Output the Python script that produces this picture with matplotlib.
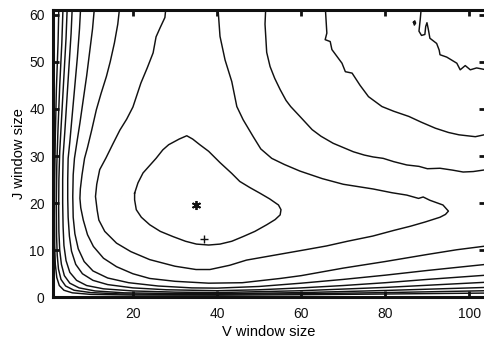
import matplotlib
matplotlib.use("Agg")
import matplotlib.pyplot as plt

plt.rcParams['font.family'] = ['Liberation Sans', 'DejaVu Sans']

# contour lines, (V window, J window)
# innermost closed loop round the minimum
c1_v = [20.4, 20.4, 20.8, 22.0, 24.0, 26.5, 29.5, 32.5, 35.1, 38.0, 40.7, 43.5, 46.2, 49.0,
        51.8, 53.8, 55.0, 55.2, 54.6, 52.5, 50.2, 47.8, 45.4, 43.5, 40.7, 38.0, 35.9, 34.2,
        32.8, 31.0, 28.5, 27.1, 25.5, 24.0, 22.4, 21.2, 20.4]
c1_j = [22.1, 20.7, 18.6, 17.0, 15.4, 14.0, 12.9, 11.9, 11.3, 11.1, 11.3, 11.9, 12.9, 14.0,
        15.4, 16.5, 17.5, 18.6, 19.6, 20.9, 22.1, 23.3, 24.6, 26.3, 28.6, 31.0, 32.4, 33.6,
        34.3, 33.6, 32.4, 31.3, 29.5, 28.0, 26.4, 24.3, 22.1]

# second loop, open at the top, tip near V=95
c2_v = [27.9, 27.6, 26.5, 25.5, 24.8, 23.4, 21.9, 20.0, 18.5, 16.9, 15.2, 13.6, 12.1, 11.4,
        11.1, 11.5, 11.9, 13.3, 16.1, 19.5, 24.0, 30.0, 35.0, 38.3, 43.0, 47.0, 54.0, 61.0,
        66.0, 71.0, 77.0, 82.0, 86.0, 89.5, 93.0, 94.3, 95.0, 93.7, 90.6, 89.0, 87.9, 85.1,
        81.6, 77.1, 70.0, 65.0, 59.7, 56.0, 53.0, 50.4, 48.6, 46.2, 44.7, 43.5, 41.9, 40.7,
        40.3, 39.9]
c2_j = [62.0, 59.4, 57.3, 55.3, 51.9, 48.7, 45.5, 40.4, 37.8, 35.5, 32.5, 29.6, 27.1, 24.0,
        21.4, 18.5, 16.4, 14.0, 11.5, 9.7, 8.0, 6.6, 5.9, 5.9, 6.8, 7.9, 9.0, 10.1,
        10.9, 11.9, 13.0, 14.2, 15.1, 16.0, 17.0, 17.6, 18.3, 19.6, 20.6, 21.3, 21.0, 21.7,
        22.2, 23.0, 24.0, 25.2, 26.8, 28.2, 29.5, 31.5, 34.1, 37.7, 40.5, 45.8, 50.4, 55.4,
        60.4, 62.0]

# left arms that bend round the lower left corner
c3l_v = [16.9, 16.4, 15.6, 14.6, 13.7, 12.4, 11.3, 10.2, 9.2, 8.5, 7.9, 7.5, 7.4, 7.6, 8.2,
         9.2, 10.6, 13.0, 16.1, 20.0, 24.0, 30.0, 38.0, 46.0, 55.0, 60.0, 70.0, 80.0, 90.0,
         97.0, 104.0]
c3l_j = [62.0, 58.0, 54.0, 50.0, 46.9, 43.2, 39.8, 35.5, 31.8, 29.5, 26.0, 23.0, 21.0, 19.0,
         16.4, 13.3, 10.8, 8.3, 6.5, 5.0, 4.0, 3.4, 3.0, 3.1, 4.0, 4.6, 6.2, 7.6, 9.1,
         10.1, 10.9]

c4l_v = [10.9, 10.4, 9.7, 9.0, 8.2, 7.4, 6.7, 6.1, 5.8, 5.7, 5.8, 6.2, 7.0, 8.4, 10.5, 14.0,
         19.0, 26.0, 34.0, 40.0, 50.0, 60.0, 70.0, 80.0, 90.0, 104.0]
c4l_j = [62.0, 57.0, 52.0, 47.0, 42.0, 37.0, 33.0, 29.5, 26.0, 21.4, 17.0, 13.5, 10.3, 7.6,
         5.6, 4.1, 3.1, 2.4, 2.0, 1.95, 2.3, 3.0, 3.8, 4.7, 5.7, 7.0]

c5l_v = [7.6, 7.3, 6.8, 6.2, 5.6, 5.0, 4.6, 4.5, 4.5, 4.6, 4.9, 5.4, 6.4, 8.0, 10.5, 14.0,
         20.0, 28.0, 40.0, 50.0, 60.0, 70.0, 80.0, 90.0, 104.0]
c5l_j = [62.0, 57.0, 51.0, 45.0, 39.0, 33.0, 29.5, 25.0, 21.0, 17.0, 13.0, 9.8, 7.0, 5.0,
         3.6, 2.7, 2.0, 1.6, 1.4, 1.6, 2.0, 2.5, 3.1, 3.8, 4.7]

c6_v = [5.6, 5.3, 4.8, 4.3, 3.8, 3.4, 3.3, 3.3, 3.4, 3.6, 4.1, 5.0, 6.6, 9.0, 13.0, 20.0,
        30.0, 40.0, 60.0, 80.0, 104.0]
c6_j = [62.0, 56.0, 49.0, 42.0, 35.0, 30.0, 25.0, 20.0, 15.0, 11.0, 7.8, 5.3, 3.6, 2.5,
        1.8, 1.35, 1.1, 1.0, 1.4, 2.1, 3.2]

c7_v = [4.4, 4.1, 3.6, 3.1, 2.6, 2.4, 2.35, 2.4, 2.6, 3.0, 3.7, 5.0, 7.2, 11.0, 18.0, 30.0,
        40.0, 60.0, 80.0, 104.0]
c7_j = [62.0, 55.0, 47.0, 39.0, 31.0, 25.0, 19.0, 14.0, 10.0, 7.0, 4.6, 3.0, 2.0, 1.35,
        0.95, 0.8, 0.75, 1.0, 1.45, 2.1]

c8_v = [3.4, 3.1, 2.6, 2.2, 1.9, 1.8, 1.85, 2.0, 2.3, 2.9, 4.0, 6.0, 10.0, 17.0, 30.0,
        60.0, 80.0, 104.0]
c8_j = [62.0, 54.0, 45.0, 36.0, 28.0, 20.0, 13.0, 9.0, 6.0, 3.8, 2.4, 1.5, 1.0, 0.72, 0.6,
        0.75, 1.0, 1.4]

c9_v = [2.4, 2.2, 1.8, 1.55, 1.4, 1.35, 1.4, 1.55, 1.9, 2.5, 3.6, 5.6, 10.0, 20.0, 40.0,
        60.0, 80.0, 104.0]
c9_j = [62.0, 54.0, 44.0, 34.0, 25.0, 17.0, 11.0, 7.0, 4.2, 2.5, 1.5, 0.95, 0.62, 0.48,
        0.45, 0.55, 0.7, 0.9]

# pieces in the upper right
c3r_v = [51.6, 51.4, 51.6, 51.8, 52.6, 53.7, 55.0, 56.4, 57.5, 59.7, 62.6, 64.7, 67.6, 70.0,
         72.4, 75.0, 77.1, 79.5, 82.0, 85.1, 88.0, 90.0, 93.0, 96.0, 98.5, 100.9, 104.0]
c3r_j = [62.0, 58.0, 55.0, 52.0, 49.0, 46.5, 44.1, 41.8, 40.5, 38.4, 35.6, 34.2, 32.7, 31.8,
         30.9, 30.2, 29.8, 29.5, 28.8, 28.1, 27.8, 27.3, 27.4, 27.0, 26.6, 26.7, 27.1]

c4r_v = [65.7, 66.1, 65.7, 66.9, 67.3, 69.7, 70.5, 72.1, 74.0, 76.0, 79.2, 82.0, 85.6, 88.5,
         91.9, 95.0, 97.5, 101.4, 104.0]
c4r_j = [62.0, 56.1, 54.7, 54.3, 52.6, 49.7, 47.9, 47.6, 45.0, 42.6, 40.5, 39.5, 38.4, 37.2,
         35.9, 35.0, 34.5, 34.1, 34.6]

c5_v = [88.6, 88.3, 88.0, 88.6, 89.4, 89.6, 89.9, 90.2, 90.6, 92.2, 92.8, 93.0, 94.6, 97.0,
        97.8, 99.0, 100.2, 101.7, 104.0]
c5_j = [62.0, 59.0, 56.5, 55.6, 55.8, 57.5, 58.3, 57.0, 55.0, 53.9, 52.5, 51.5, 51.0, 49.7,
        48.3, 49.2, 48.3, 48.7, 48.3]

# tiny island near the top
c5dot_v = [86.7, 87.0, 87.2, 86.9, 86.7]
c5dot_j = [58.4, 58.7, 58.2, 57.8, 58.4]

star_v, star_j = 35.0, 19.5
plus_v, plus_j = 37.0, 12.3

x_ticks = [20, 40, 60, 80, 100]
y_ticks = [0, 10, 20, 30, 40, 50, 60]

fig = plt.figure(figsize=(4.84, 3.47), dpi=100)
ax = fig.add_axes([0.1095, 0.1432, 0.8926, 0.828])

curves = [(c1_v, c1_j), (c2_v, c2_j), (c3l_v, c3l_j), (c4l_v, c4l_j), (c5l_v, c5l_j),
          (c6_v, c6_j), (c7_v, c7_j), (c8_v, c8_j), (c9_v, c9_j), (c3r_v, c3r_j),
          (c4r_v, c4r_j), (c5_v, c5_j), (c5dot_v, c5dot_j)]
for cv, cj in curves:
    ax.plot(cv, cj, color='#111111', lw=1.05, solid_joinstyle='round')

ax.plot([star_v], [star_j], marker=(6, 2, 0), color='#111111', ms=6.5, mew=1.3, ls='none')
ax.plot([plus_v], [plus_j], marker='+', color='#111111', ms=6, mew=1.0, ls='none')

ax.set_xlim(1, 103.7)
ax.set_ylim(0, 61)
ax.set_xticks(x_ticks)
ax.set_yticks(y_ticks)
ax.tick_params(direction='in', length=4.5, width=2.0, top=True, right=True,
               labelsize=10, colors='#111111')
ax.tick_params(axis='x', pad=7)
ax.tick_params(axis='y', pad=6)
for s in ax.spines.values():
    s.set_linewidth(2.2)
    s.set_color('#111111')

ax.set_xlabel('V window size', fontsize=10.5, labelpad=3)
ax.set_ylabel('J window size', fontsize=10.5, labelpad=2)

fig.savefig('out.png', dpi=100)
